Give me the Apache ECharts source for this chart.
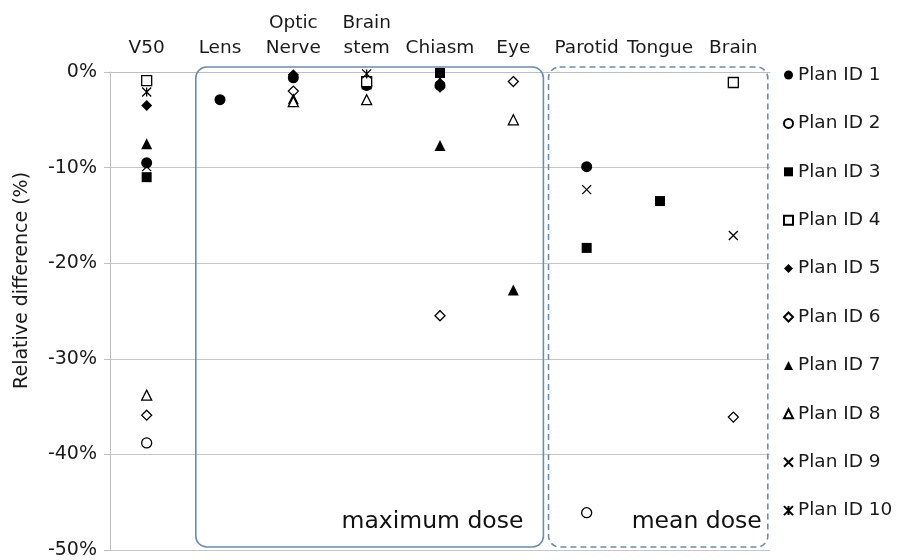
<!DOCTYPE html>
<html>
<head>
<meta charset="utf-8">
<script src="https://cdn.jsdelivr.net/npm/echarts@6/dist/echarts.min.js"></script>
<style>
  html, body { margin: 0; padding: 0; background: #fff; }
  #chart { width: 897px; height: 560px; }
</style>
</head>
<body>
<div id="chart"></div>
<script>
// categories along the top axis
const categories = ["V50", "Lens", "Optic\nNerve", "Brain\nstem", "Chiasm", "Eye", "Parotid", "Tongue", "Brain"];
const yTicks = [0, -10, -20, -30, -40, -50];

// relative difference (%) per plan, one value per category (null = not shown)
const plan1 = [-9.5, -2.9, -0.6, -1.4, -1.4, null, -9.9, null, null];
const plan2 = [-38.8, null, null, null, null, null, -46.1, null, null];
const plan3 = [-11.0, null, null, -1.3, -0.1, null, -18.4, -13.5, null];
const plan4 = [-0.9, null, null, -1.0, null, null, null, null, -1.1];
const plan5 = [-3.5, null, -0.3, null, -1.6, null, null, null, null];
const plan6 = [-35.9, null, -2.0, null, -25.5, -1.0, null, null, -36.1];
const plan7 = [-7.5, null, -2.8, null, -7.7, -22.8, null, null, null];
const plan8 = [-33.8, null, -3.1, -2.9, null, -5.0, null, null, null];
const plan9 = [-9.9, null, null, null, null, null, -12.3, null, -17.1];
const plan10 = [-2.1, null, null, -0.2, -0.7, null, null, null, null];

const planNames = ["Plan ID 1", "Plan ID 2", "Plan ID 3", "Plan ID 4", "Plan ID 5",
  "Plan ID 6", "Plan ID 7", "Plan ID 8", "Plan ID 9", "Plan ID 10"];
const planData = [plan1, plan2, plan3, plan4, plan5, plan6, plan7, plan8, plan9, plan10];

const CROSS = "path://M0,0L10,10M10,0L0,10";
const STAR = "path://M0,0L10,10M10,0L0,10M5,0L5,10";

// marker look per plan: symbol, size, filled?
const markers = [
  ["circle", 11, true], ["circle", 10, false], ["rect", 10, true], ["rect", 10, false],
  ["diamond", 11, true], ["diamond", 10, false], ["triangle", 11, true], ["triangle", 10, false],
  [CROSS, 9, false], [STAR, 9, false],
];

const font = "DejaVu Sans, Verdana, sans-serif";
const textColor = "#1a1a1a";
const boxColor = "#6a8db3";

let chart = echarts.init(document.getElementById("chart"));

const series = planData.map((d, i) => {
  const [sym, size, filled] = markers[i];
  const isPath = sym.indexOf("path://") === 0;
  return {
    name: planNames[i],
    type: "scatter",
    symbol: sym,
    symbolSize: size,
    data: d,
    z: 5,
    itemStyle: {
      color: filled || isPath ? "#000" : "#fff",
      borderColor: "#000",
      borderWidth: filled ? 0 : 1.3,
      opacity: 1,
    },
  };
});

chart.setOption({
  animation: false,
  grid: { left: 110, right: 127, top: 72, bottom: 10 },
  legend: {
    orient: "vertical",
    left: 778,
    top: 60.5,
    itemWidth: 9,
    itemHeight: 9,
    itemGap: 29.4,
    data: planNames,
    textStyle: { fontFamily: font, fontSize: 18.5, color: textColor, padding: [0, 0, 0, 0] },
  },
  xAxis: {
    type: "category",
    position: "top",
    data: categories,
    axisLine: { lineStyle: { color: "#bfbfbf", width: 1 } },
    axisTick: { inside: true, length: 6, lineStyle: { color: "#bfbfbf" } },
    axisLabel: {
      interval: 0,
      margin: 11,
      fontFamily: font,
      fontSize: 18.5,
      lineHeight: 25,
      color: textColor,
    },
    splitLine: { show: false },
  },
  yAxis: {
    type: "value",
    min: -50,
    max: 0,
    interval: 10,
    axisLine: { show: true, lineStyle: { color: "#bfbfbf", width: 1 } },
    axisTick: { show: true, length: 6, lineStyle: { color: "#bfbfbf" } },
    axisLabel: {
      margin: 13,
      fontFamily: font,
      fontSize: 19,
      color: textColor,
      formatter: (v) => (yTicks.indexOf(v) >= 0 ? v + "%" : ""),
    },
    splitLine: { lineStyle: { color: "#c6c6c6", width: 1 } },
  },
  series: series,
});

// boxes around the "maximum dose" and "mean dose" groups, placed from the axes
function drawExtras() {
  const cx = (i) => chart.convertToPixel({ xAxisIndex: 0 }, i);
  const cy = (v) => chart.convertToPixel({ yAxisIndex: 0 }, v);
  const band = cx(1) - cx(0);
  const yTop = cy(0) - 5;
  const yBot = cy(-50) - 3;

  const maxL = cx(1) - band * 0.33;
  const maxR = cx(5) + band * 0.41;
  const meanL = cx(6) - band * 0.52;
  const meanR = cx(8) + band * 0.47;

  chart.setOption({
    graphic: [
      {
        type: "text",
        x: 22,
        y: cy(-21.8),
        rotation: Math.PI / 2,
        style: {
          text: "Relative difference (%)", fontFamily: font, fontSize: 19, fill: textColor,
          align: "center", verticalAlign: "middle",
        },
      },
      {
        type: "rect",
        shape: { x: maxL, y: yTop, width: maxR - maxL, height: yBot - yTop, r: 11 },
        style: { fill: "none", stroke: boxColor, lineWidth: 1.6 },
        z: 10,
      },
      {
        type: "rect",
        shape: { x: meanL, y: yTop, width: meanR - meanL, height: yBot - yTop, r: 11 },
        style: { fill: "none", stroke: boxColor, lineWidth: 1.6, lineDash: [6, 4] },
        z: 10,
      },
      {
        type: "text",
        x: maxR - 20,
        y: yBot - 25,
        style: {
          text: "maximum dose", fontFamily: font, fontSize: 23.5, fill: "#111",
          align: "right", verticalAlign: "middle",
        },
        z: 10,
      },
      {
        type: "text",
        x: meanR - 6,
        y: yBot - 25,
        style: {
          text: "mean dose", fontFamily: font, fontSize: 23.5, fill: "#111",
          align: "right", verticalAlign: "middle",
        },
        z: 10,
      },
    ],
  });
}
drawExtras();

window.addEventListener("resize", () => {
  chart.resize();
  drawExtras();
});
</script>
</body>
</html>
